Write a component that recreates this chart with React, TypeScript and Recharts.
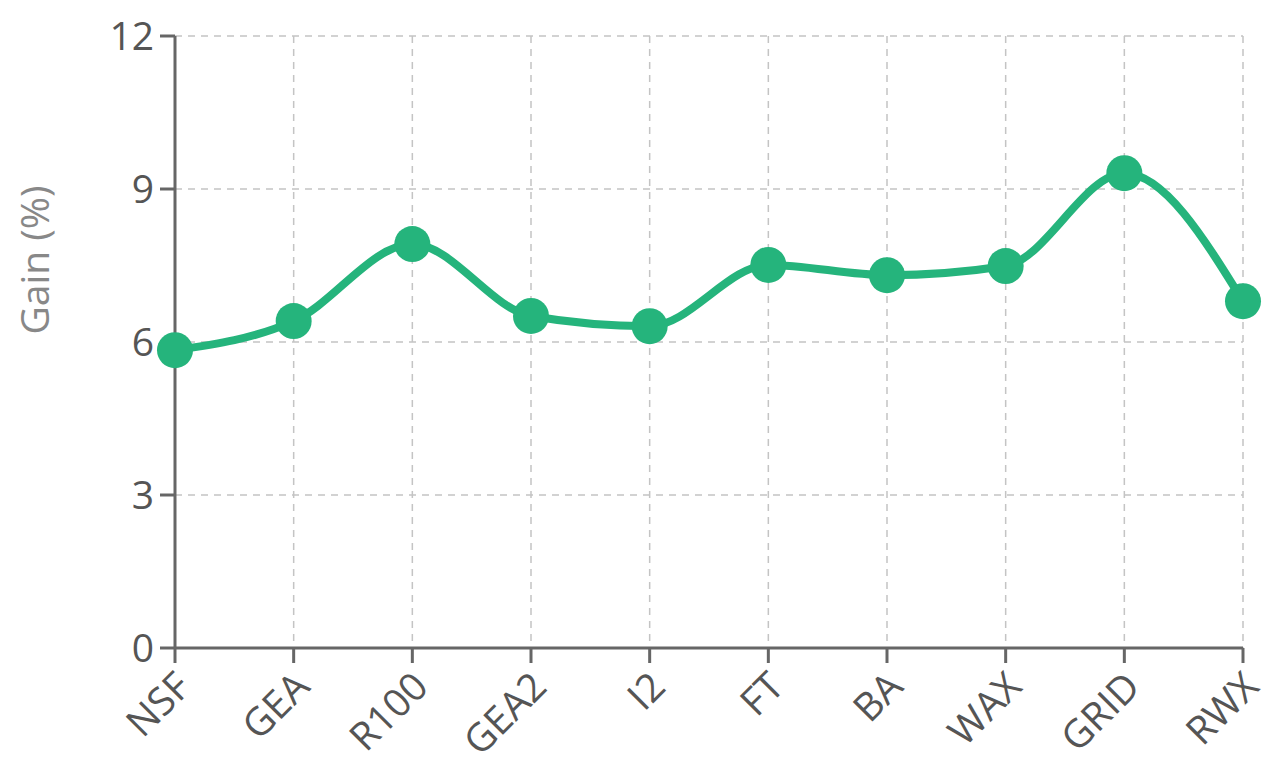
import { LineChart, Line, XAxis, YAxis, CartesianGrid } from 'recharts';

const categories = ["NSF", "GEA", "R100", "GEA2", "I2", "FT", "BA", "WAX", "GRID", "RWX"];
const gainValues = [5.84, 6.41, 7.92, 6.51, 6.31, 7.51, 7.31, 7.49, 9.31, 6.8];
const yTicks = [0, 3, 6, 9, 12];

const data = categories.map((name, i) => ({ name, gain: gainValues[i] }));

const FONT = '"Open Sans", "Noto Sans", sans-serif';
const GREEN = "#25b47c";

function RotatedTick({ x, y, payload }: any) {
    return (
        <g transform={`translate(${x + 8},${y + 14})`}>
            <text
                transform="rotate(-45)"
                textAnchor="end"
                dy={14}
                fill="#555"
                fontSize={39}
                fontFamily={FONT}
            >
                {payload.value}
            </text>
        </g>
    );
}

function YLabel() {
    return (
        <text
            transform="translate(25,252) rotate(-90)"
            textAnchor="middle"
            dominantBaseline="central"
            fill="#888"
            fontSize={39}
            fontFamily={FONT}
        >
            Gain (%)
        </text>
    );
}

export default function App() {
    return (
        <div style={{ width: 1264, height: 763, background: '#fff' }}>
            <LineChart
                width={1264}
                height={763}
                data={data}
                margin={{ top: 28, right: 29, left: 0, bottom: 13 }}
            >
                <CartesianGrid stroke="#c4c4c4" strokeWidth={1.5} strokeDasharray="7 6" />
                <XAxis
                    dataKey="name"
                    stroke="#666"
                    strokeWidth={3}
                    tickSize={15}
                    height={110}
                    tick={<RotatedTick />}
                    interval={0}
                />
                <YAxis
                    domain={[0, 12]}
                    ticks={yTicks}
                    width={167}
                    stroke="#666"
                    strokeWidth={3}
                    tickSize={15}
                    tickMargin={6}
                    tick={{ fill: '#555', fontSize: 39, fontFamily: FONT }}
                    label={{ content: <YLabel /> }}
                />
                <Line
                    type="monotone"
                    dataKey="gain"
                    stroke={GREEN}
                    strokeWidth={8}
                    dot={{ r: 18, fill: GREEN, stroke: GREEN, strokeWidth: 0 }}
                    isAnimationActive={false}
                />
            </LineChart>
        </div>
    );
}
